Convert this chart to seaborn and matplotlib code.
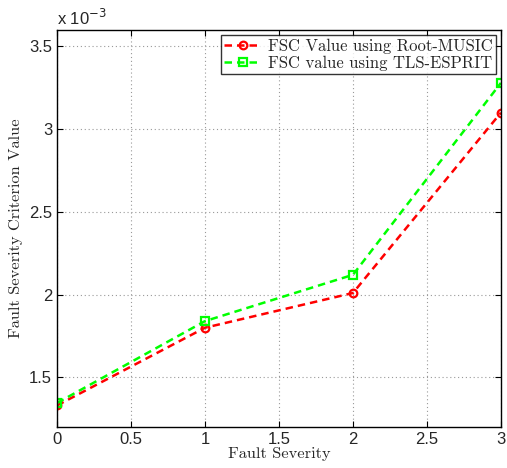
import pandas as pd
import matplotlib
matplotlib.use("Agg")
import matplotlib.pyplot as plt
import seaborn as sns
from matplotlib.ticker import FuncFormatter

# Dados
severidade = [0, 1, 2, 3]
fsc_root_music = [1.33e-3, 1.80e-3, 2.01e-3, 3.10e-3]
fsc_tls_esprit = [1.345e-3, 1.84e-3, 2.12e-3, 3.28e-3]
rotulos = ["FSC Value using Root-MUSIC", "FSC value using TLS-ESPRIT"]

data = pd.DataFrame({
    "sev": severidade * 2,
    "fsc": fsc_root_music + fsc_tls_esprit,
    "metodo": [rotulos[0]] * 4 + [rotulos[1]] * 4,
})

sns.set_style("ticks")
plt.rcParams["font.family"] = ["Liberation Sans", "DejaVu Sans"]
plt.rcParams["xtick.direction"] = "in"
plt.rcParams["ytick.direction"] = "in"

fig = plt.figure(figsize=(5.07, 4.68), dpi=100)
ax = fig.add_axes([0.1124, 0.0876, 0.8756, 0.8484])

sns.lineplot(data=data, x="sev", y="fsc", hue="metodo", style="metodo",
             palette=["#ff0000", "#00ff00"], markers=["o", "s"],
             dashes=[(3, 2), (3, 2)], linewidth=1.8, markersize=5.5,
             markerfacecolor="none", markeredgewidth=1.6, ax=ax)

for l in ax.lines:
    l.set_markeredgecolor(l.get_color())

ax.set_xlim(0, 3)
ax.set_ylim(1.2e-3, 3.6e-3)
ax.set_xticks([0, 0.5, 1, 1.5, 2, 2.5, 3])
ax.set_xticklabels(["0", "0.5", "1", "1.5", "2", "2.5", "3"])
ax.set_yticks([1.5e-3, 2e-3, 2.5e-3, 3e-3, 3.5e-3])
ax.yaxis.set_major_formatter(FuncFormatter(lambda v, _: f"{v * 1e3:g}"))
ax.tick_params(labelsize=12, length=4, color="black", top=True, right=True)
ax.grid(True, linestyle=(0, (1, 2.5)), color="#999999", linewidth=0.8)
for s in ax.spines.values():
    s.set_linewidth(1.0)
    s.set_color("black")

ax.text(0.0, 1.005, r"x 10$^{-3}$", transform=ax.transAxes, fontsize=12,
        ha="left", va="bottom")

ax.set_xlabel("Fault Severity", family="cmr10", fontsize=11.8, labelpad=0)
ax.set_ylabel("Fault Severity Criterion Value", family="cmr10", fontsize=11.8, labelpad=4)

leg = ax.legend(loc="upper right", prop={"family": "cmr10", "size": 12},
                frameon=True, fancybox=False, edgecolor="black",
                borderaxespad=0.3, handlelength=2.2, borderpad=0.2,
                labelspacing=0.1, handletextpad=0.4)
leg.get_frame().set_linewidth(1.0)
leg.set_title(None)

plt.savefig("out.png", dpi=100)
